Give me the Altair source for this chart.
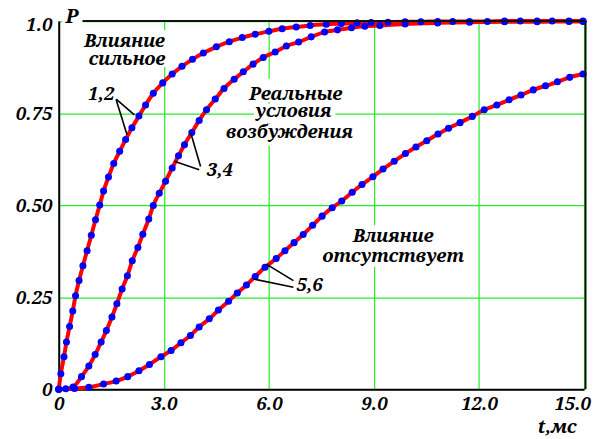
import altair as alt
import pandas as pd

# ---- curve data (t in ms, P) ----
t1 = [0, 0.06, 0.15, 0.22, 0.31, 0.40, 0.48, 0.58, 0.69, 0.81, 0.93, 1.05, 1.17, 1.28,
      1.42, 1.57, 1.74, 1.91, 2.09, 2.29, 2.48, 2.70, 2.97, 3.24, 3.52, 3.82, 4.13, 4.50,
      4.87, 5.24, 5.61, 6.00, 6.38, 6.78, 7.18, 7.64, 8.07, 8.52, 8.92, 9.40, 9.89, 10.34,
      10.82, 11.25, 11.73, 12.24, 12.73, 13.18, 13.66, 14.09, 14.57, 14.97]
p1 = [0, 0.042, 0.088, 0.128, 0.170, 0.212, 0.254, 0.295, 0.335, 0.376, 0.418, 0.460, 0.500, 0.538,
      0.576, 0.613, 0.646, 0.678, 0.710, 0.742, 0.772, 0.804, 0.832, 0.856, 0.877, 0.896, 0.913, 0.930,
      0.944, 0.955, 0.964, 0.972, 0.979, 0.984, 0.988, 0.991, 0.993, 0.995, 0.996, 0.997, 0.998, 0.998,
      0.999, 0.999, 0.999, 0.999, 1.0, 1.0, 1.0, 1.0, 1.0, 1.0]

t2 = [0, 0.20, 0.41, 0.65, 0.86, 1.04, 1.21, 1.36, 1.52, 1.66, 1.81, 1.96, 2.10, 2.26, 2.40,
      2.57, 2.70, 2.87, 3.05, 3.24, 3.42, 3.59, 3.80, 4.01, 4.22, 4.47, 4.72, 5.01, 5.27, 5.55,
      5.84, 6.18, 6.50, 6.85, 7.21, 7.59, 7.96, 8.36, 8.74, 9.17, 9.89, 10.82, 11.73, 12.73,
      13.66, 14.57, 14.97]
p2 = [0, 0.001, 0.006, 0.034, 0.063, 0.094, 0.128, 0.159, 0.196, 0.232, 0.272, 0.308, 0.349, 0.385, 0.421,
      0.462, 0.499, 0.532, 0.565, 0.601, 0.634, 0.664, 0.697, 0.730, 0.759, 0.788, 0.817, 0.842, 0.862, 0.883,
      0.901, 0.916, 0.932, 0.943, 0.957, 0.970, 0.976, 0.982, 0.986, 0.988, 0.992, 0.995, 0.997, 0.998,
      0.998, 0.999, 0.999]

t3 = [0, 0.45, 0.86, 1.28, 1.64, 1.97, 2.29, 2.59, 2.92, 3.21, 3.49, 3.76, 4.01, 4.30, 4.56,
      4.85, 5.10, 5.36, 5.61, 5.89, 6.21, 6.46, 6.72, 6.98, 7.25, 7.52, 7.81, 8.08, 8.38, 8.66,
      8.97, 9.26, 9.58, 9.90, 10.20, 10.51, 10.83, 11.13, 11.46, 11.81, 12.15, 12.51, 12.86,
      13.20, 13.55, 13.90, 14.24, 14.59, 14.97]
p3 = [0, 0.002, 0.005, 0.014, 0.022, 0.034, 0.050, 0.067, 0.088, 0.105, 0.126, 0.146, 0.169, 0.191, 0.215,
      0.239, 0.261, 0.283, 0.306, 0.331, 0.355, 0.376, 0.398, 0.420, 0.445, 0.470, 0.493, 0.511, 0.535, 0.556,
      0.577, 0.598, 0.619, 0.640, 0.658, 0.675, 0.693, 0.709, 0.724, 0.741, 0.759, 0.772, 0.786,
      0.799, 0.813, 0.824, 0.835, 0.847, 0.856]

x_ticks = [0, 3, 6, 9, 12, 15]
y_ticks = [0, 0.25, 0.5, 0.75, 1.0]

# annotation texts (label, t, P at baseline)
ann_labels = ["Влияние", "сильное", "1,2", "3,4", "Реальные", "условия", "возбуждения",
              "Влияние", "отсутствует", "5,6", "t,мс"]
ann_t = [1.88, 1.95, 1.21, 4.60, 6.77, 6.70, 6.59, 9.55, 9.55, 7.16, 14.23]
ann_p = [0.929, 0.880, 0.786, 0.578, 0.786, 0.740, 0.683, 0.399, 0.345, 0.267, -0.118]

# leader lines
lead_t0 = [1.64, 1.64, 4.05, 4.01, 6.70, 6.70]
lead_p0 = [0.788, 0.786, 0.605, 0.596, 0.295, 0.277]
lead_t1 = [2.16, 1.95, 3.77, 3.30, 5.94, 5.57]
lead_p1 = [0.745, 0.691, 0.696, 0.619, 0.339, 0.299]

# white boxes behind texts (hide grid)
box_t0 = [0.65, 5.43, 5.57, 4.74, 7.47, 6.68, 0.09]
box_t1 = [3.16, 8.13, 7.90, 8.49, 11.62, 7.73, 0.68]
box_p0 = [0.875, 0.780, 0.723, 0.661, 0.332, 0.256, 0.992]
box_p1 = [0.975, 0.843, 0.775, 0.721, 0.445, 0.305, 1.06]

FONT = "Noto Serif"
FS = 18.5

curves = pd.concat([
    pd.DataFrame({"t": t1, "P": p1, "c": "1"}),
    pd.DataFrame({"t": t2, "P": p2, "c": "2"}),
    pd.DataFrame({"t": t3, "P": p3, "c": "3"}),
])
ann = pd.DataFrame({"label": ann_labels, "t": ann_t, "P": ann_p})
leads = pd.DataFrame({"t0": lead_t0, "p0": lead_p0, "t1": lead_t1, "p1": lead_p1})
boxes = pd.DataFrame({"t0": box_t0, "t1": box_t1, "p0": box_p0, "p1": box_p1})
top_border = pd.DataFrame({"t0": [0.68], "t1": [15], "p": [1.0]})
right_border = pd.DataFrame({"t": [15], "p0": [0], "p1": [1.0]})

xscale = alt.Scale(domain=[0, 15], nice=False, zero=False)
yscale = alt.Scale(domain=[0, 1], nice=False, zero=False)

xaxis = alt.Axis(values=x_ticks, title=None, grid=True, gridColor="#22ee22", gridWidth=1.2,
                 domainColor="black", domainWidth=2, ticks=False, labelFlush=False,
                 labelExpr="datum.value == 0 ? '0' : format(datum.value, '.1f')",
                 labelFont=FONT, labelFontSize=FS, labelFontWeight="bold", labelFontStyle="italic",
                 labelColor="black", labelPadding=5,
                 labelOffset={"condition": {"test": "datum.value == 15", "value": -12}, "value": 0})
yaxis = alt.Axis(values=y_ticks, title=None, grid=True, gridColor="#22ee22", gridWidth=1.2,
                 domainColor="black", domainWidth=2, ticks=False, labelFlush=False,
                 labelExpr="datum.value == 0 ? '0' : datum.value == 1 ? '1.0' : format(datum.value, '.2f')",
                 labelFont=FONT, labelFontSize=FS, labelFontWeight="bold", labelFontStyle="italic",
                 labelColor="black", labelPadding=7,
                 labelOffset={"condition": {"test": "datum.value == 1", "value": 4}, "value": 0})

rects = alt.Chart(boxes).mark_rect(color="white").encode(
    x=alt.X("t0:Q", scale=xscale, axis=xaxis), x2="t1:Q",
    y=alt.Y("p0:Q", scale=yscale, axis=yaxis), y2="p1:Q")

lines = alt.Chart(curves).mark_line(color="#ff0000", strokeWidth=4, interpolate="monotone").encode(
    x=alt.X("t:Q", scale=xscale, axis=xaxis),
    y=alt.Y("P:Q", scale=yscale, axis=yaxis),
    detail="c:N")

dots = alt.Chart(curves).mark_circle(color="#0000ff", size=50, opacity=1).encode(
    x=alt.X("t:Q", scale=xscale, axis=xaxis),
    y=alt.Y("P:Q", scale=yscale, axis=yaxis))

leaders = alt.Chart(leads).mark_rule(color="black", strokeWidth=1.6).encode(
    x=alt.X("t0:Q", scale=xscale, axis=xaxis), x2="t1:Q",
    y=alt.Y("p0:Q", scale=yscale, axis=yaxis), y2="p1:Q")

texts = alt.Chart(ann).mark_text(font=FONT, fontSize=FS, fontWeight="bold", fontStyle="italic",
                                 color="black", align="center", baseline="alphabetic").encode(
    x=alt.X("t:Q", scale=xscale, axis=xaxis),
    y=alt.Y("P:Q", scale=yscale, axis=yaxis),
    text="label:N")

ptext = alt.Chart(pd.DataFrame({"label": ["P"], "t": [0.38], "P": [0.995]})).mark_text(
    font=FONT, fontSize=20, fontWeight="bold", fontStyle="italic", color="black",
    align="center", baseline="alphabetic").encode(
    x=alt.X("t:Q", scale=xscale, axis=xaxis),
    y=alt.Y("P:Q", scale=yscale, axis=yaxis),
    text="label:N")

topb = alt.Chart(top_border).mark_rule(color="#111111", strokeWidth=2).encode(
    x=alt.X("t0:Q", scale=xscale, axis=xaxis), x2="t1:Q",
    y=alt.Y("p:Q", scale=yscale, axis=yaxis))

rightb = alt.Chart(right_border).mark_rule(color="#111111", strokeWidth=2, xOffset=1.5).encode(
    x=alt.X("t:Q", scale=xscale, axis=xaxis),
    y=alt.Y("p0:Q", scale=yscale, axis=yaxis), y2="p1:Q")

chart = alt.layer(rects, lines, dots, leaders, texts, ptext, topb, rightb).properties(
    width=528, height=370,
    autosize=alt.AutoSizeParams(type="none"),
    padding={"left": 51, "top": 12, "right": 8, "bottom": 49},
    background="white",
).configure_view(stroke=None)

chart.save("out.html", embed_options={"renderer": "svg", "actions": False})
